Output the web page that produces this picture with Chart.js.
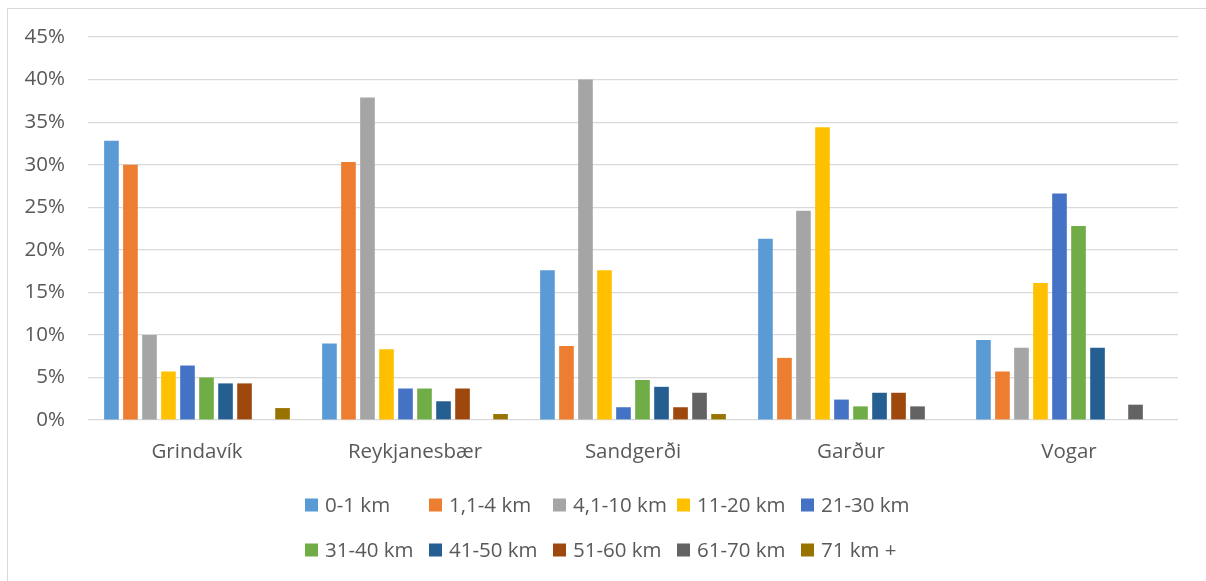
<!DOCTYPE html>
<html>
<head>
<meta charset="utf-8">
<script src="https://cdn.jsdelivr.net/npm/chart.js@4"></script>
<style>
  html, body { margin: 0; padding: 0; background: #fff; overflow: hidden; }
  #frame { position: absolute; left: 7px; top: 8px; width: 1300px; height: 700px; border: 1px solid #d9d9d9; }
  #wrap { position: absolute; left: 0; top: 0; width: 1206px; height: 581px; }
</style>
</head>
<body>
<div id="frame"></div>
<div id="wrap"><canvas id="chart"></canvas></div>
<script>
const towns = ["Grindavík", "Reykjanesbær", "Sandgerði", "Garður", "Vogar"];
const bands = ["0-1 km", "1,1-4 km", "4,1-10 km", "11-20 km", "21-30 km",
               "31-40 km", "41-50 km", "51-60 km", "61-70 km", "71 km +"];

// percent of residents per distance band, one value per town
const km0_1   = [32.8,  9.0, 17.6, 21.3,  9.4];
const km1_4   = [30.0, 30.3,  8.7,  7.3,  5.7];
const km4_10  = [10.0, 37.9, 40.0, 24.6,  8.5];
const km11_20 = [ 5.7,  8.3, 17.6, 34.4, 16.1];
const km21_30 = [ 6.4,  3.7,  1.5,  2.4, 26.6];
const km31_40 = [ 5.0,  3.7,  4.7,  1.6, 22.8];
const km41_50 = [ 4.3,  2.2,  3.9,  3.2,  8.5];
const km51_60 = [ 4.3,  3.7,  1.5,  3.2,  0];
const km61_70 = [ 0,    0,    3.2,  1.6,  1.8];
const km71    = [ 1.4,  0.7,  0.7,  0,    0];

const yTicks = [0, 5, 10, 15, 20, 25, 30, 35, 40, 45];

const series = [km0_1, km1_4, km4_10, km11_20, km21_30, km31_40, km41_50, km51_60, km61_70, km71];
const colors = ["#5b9bd5", "#ed7d31", "#a5a5a5", "#ffc000", "#4472c4",
                "#70ad47", "#255e91", "#9e480e", "#636363", "#997300"];

const FONT = "'Open Sans', 'Liberation Sans', sans-serif";
const TEXT = "#595959";

// Excel style legend: fixed columns, two rows
const gridLegend = {
  id: "gridLegend",
  afterDraw(chart, args, opts) {
    const ctx = chart.ctx;
    ctx.save();
    ctx.font = "20.5px " + FONT;
    ctx.textBaseline = "middle";
    ctx.textAlign = "left";
    chart.data.datasets.forEach((ds, i) => {
      const col = i % opts.cols;
      const row = Math.floor(i / opts.cols);
      const x = opts.left + col * opts.colWidth;
      const y = opts.top + row * opts.rowHeight;
      ctx.fillStyle = ds.backgroundColor;
      ctx.fillRect(x, y - 6.5, 13, 13);
      ctx.fillStyle = TEXT;
      ctx.fillText(ds.label, x + 20, y + 1);
    });
    ctx.restore();
  },
};

new Chart(document.getElementById("chart"), {
  type: "bar",
  data: {
    labels: towns,
    datasets: series.map((values, i) => ({
      label: bands[i],
      data: values,
      backgroundColor: colors[i],
      barPercentage: 0.77,
      categoryPercentage: 0.872,
    })),
  },
  options: {
    responsive: true,
    maintainAspectRatio: false,
    animation: false,
    layout: { padding: { left: 0, right: 28, top: 37, bottom: 100 } },
    scales: {
      x: {
        grid: { display: false },
        border: { display: false },
        ticks: { color: TEXT, font: { family: FONT, size: 20.5 }, padding: 12 },
        afterFit: (scale) => { scale.height = 61; },
      },
      y: {
        min: 0,
        max: 45,
        afterBuildTicks: (scale) => { scale.ticks = yTicks.map((v) => ({ value: v })); },
        grid: { color: "#d9d9d9", lineWidth: 1.2, drawTicks: false },
        border: { display: false },
        ticks: {
          color: TEXT,
          font: { family: FONT, size: 20.5 },
          padding: 23,
          callback: (v) => v + "%",
        },
        afterFit: (scale) => { scale.width = 88; },
      },
    },
    plugins: {
      legend: { display: false },
      tooltip: { enabled: false },
      gridLegend: { left: 305, top: 505, cols: 5, colWidth: 124, rowHeight: 45 },
    },
  },
  plugins: [gridLegend],
});
</script>
</body>
</html>
